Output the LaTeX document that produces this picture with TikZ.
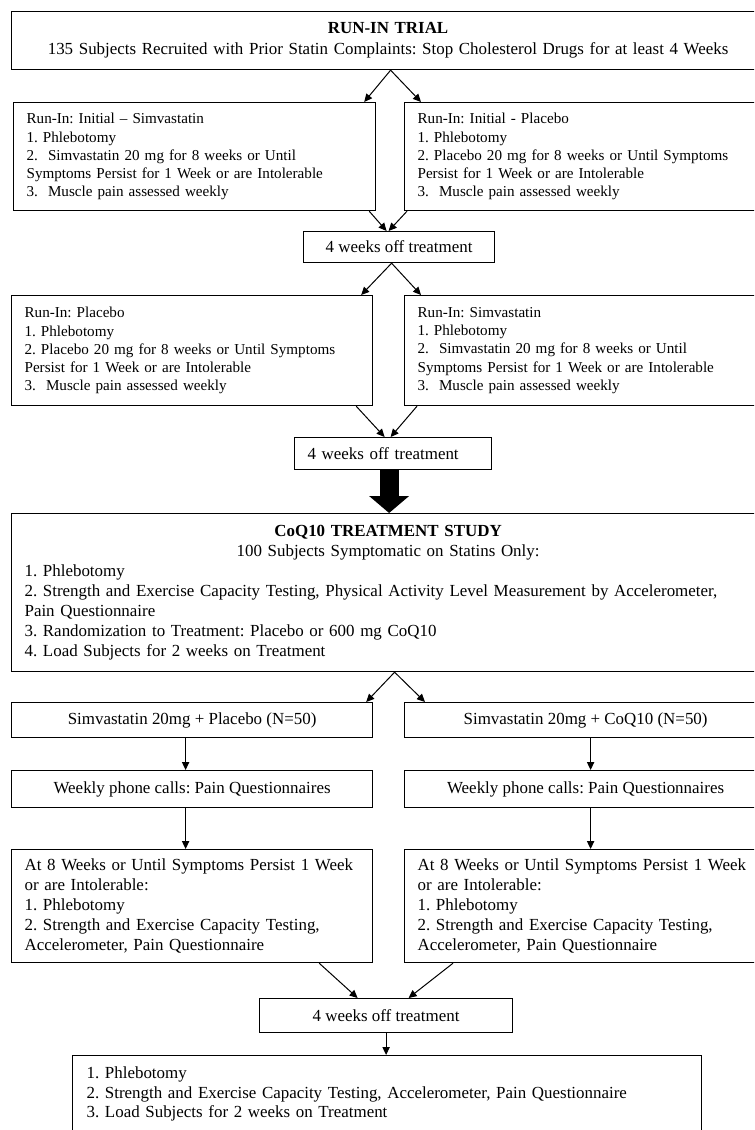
\documentclass[tikz,border=0pt]{standalone}
\usepackage{fontspec}
\setmainfont{Liberation Serif}
\usetikzlibrary{arrows.meta,calc}
\setlength\parindent{0pt}
\begin{document}
\frenchspacing
\begin{tikzpicture}[x=0.75pt,y=-0.75pt,
  box/.style={draw, line width=0.9pt, inner xsep=9.75pt, inner ysep=1pt, anchor=north west,
    font=\fontsize{12.7pt}{15pt}\selectfont},
  lbox/.style={box, align=left},
  rin/.style={font=\fontsize{11.35pt}{13.6pt}\selectfont},
  cbox/.style={box, align=center},
  con/.style={line width=0.75pt, -{Triangle[length=6pt,width=5.5pt]}},
  bigarrow/.style={line width=14.25pt, -{Triangle[width=30pt,length=12.75pt,line width=0pt]}}
]
\useasboundingbox (0,0) rectangle (754,1130);
\clip (0,0) rectangle (754,1130);

% Run-in trial
\node[cbox, minimum width=564.75pt, minimum height=43.5pt, text width=545.25pt,
  font=\fontsize{12.7pt}{15.75pt}\selectfont] (top) at (11,11)
  {\textbf{RUN-IN TRIAL}\\135 Subjects Recruited with Prior Statin Complaints: Stop Cholesterol Drugs for at least 4 Weeks};

\node[lbox, rin, minimum width=271.5pt, minimum height=81pt, text width=252pt] (L2) at (13,102)
  {Run-In: Initial – Simvastatin\\1. Phlebotomy\\\mbox{2.\ \ Simvastatin 20 mg for 8 weeks or Until}\\\mbox{Symptoms Persist for 1 Week or are Intolerable}\\3.\ \ Muscle pain assessed weekly};
\node[lbox, rin, minimum width=271.5pt, minimum height=81pt, text width=252pt] (R2) at (404,102)
  {Run-In: Initial - Placebo\\1. Phlebotomy\\\mbox{2. Placebo 20 mg for 8 weeks or Until Symptoms}\\\mbox{Persist for 1 Week or are Intolerable}\\3.\ \ Muscle pain assessed weekly};

\node[box, minimum width=143.25pt, minimum height=23.25pt] (b1) at (303,231) {4 weeks off treatment};

\node[lbox, rin, minimum width=270.75pt, minimum height=82.5pt, text width=251.25pt] (L3) at (11,295)
  {Run-In: Placebo\\1. Phlebotomy\\\mbox{2. Placebo 20 mg for 8 weeks or Until Symptoms}\\\mbox{Persist for 1 Week or are Intolerable}\\3.\ \ Muscle pain assessed weekly};
\node[lbox, rin, minimum width=271.5pt, minimum height=82.5pt, text width=252pt] (R3) at (404,295)
  {Run-In: Simvastatin\\1. Phlebotomy\\\mbox{2.\ \ Simvastatin 20 mg for 8 weeks or Until}\\\mbox{Symptoms Persist for 1 Week or are Intolerable}\\3.\ \ Muscle pain assessed weekly};

\node[lbox, minimum width=147.75pt, minimum height=24pt, text width=128.25pt] (b2) at (294,437) {4 weeks off treatment};

% CoQ10 treatment study
\node[lbox, minimum width=564.75pt, minimum height=118.5pt, text width=545.25pt] (coq) at (11,513)
  {\makebox[\linewidth]{\textbf{CoQ10 TREATMENT STUDY}}\\\makebox[\linewidth]{100 Subjects Symptomatic on Statins Only:}\\1. Phlebotomy\\\mbox{2. Strength and Exercise Capacity Testing, Physical Activity Level Measurement by Accelerometer,}\\Pain Questionnaire\\3. Randomization to Treatment: Placebo or 600 mg CoQ10\\4. Load Subjects for 2 weeks on Treatment};

\node[box, minimum width=270.75pt, minimum height=26.25pt] (sl) at (11,702) {Simvastatin 20mg + Placebo (N=50)};
\node[box, minimum width=271.5pt, minimum height=26.25pt] (sr) at (404,702) {Simvastatin 20mg + CoQ10 (N=50)};

\node[box, minimum width=270.75pt, minimum height=27.75pt] (wl) at (11,770) {Weekly phone calls: Pain Questionnaires};
\node[box, minimum width=271.5pt, minimum height=27.75pt] (wr) at (404,770) {Weekly phone calls: Pain Questionnaires};

\node[lbox, minimum width=270.75pt, minimum height=84.75pt, text width=251.25pt] (al) at (11,849)
  {\mbox{At 8 Weeks or Until Symptoms Persist 1 Week}\\or are Intolerable:\\1. Phlebotomy\\\mbox{2. Strength and Exercise Capacity Testing,}\\Accelerometer, Pain Questionnaire};
\node[lbox, minimum width=271.5pt, minimum height=84.75pt, text width=252pt] (ar) at (404,849)
  {\mbox{At 8 Weeks or Until Symptoms Persist 1 Week}\\or are Intolerable:\\1. Phlebotomy\\\mbox{2. Strength and Exercise Capacity Testing,}\\Accelerometer, Pain Questionnaire};

\node[box, minimum width=189.75pt, minimum height=25.5pt] (b3) at (259,998) {4 weeks off treatment};

\node[lbox, inner xsep=10.5pt, inner ysep=8.5pt, minimum width=471.75pt, text width=450.75pt,
  text height=9pt, text depth=60pt, font=\fontsize{12.7pt}{14.6pt}\selectfont] (bot) at (72,1055)
  {1. Phlebotomy\\\mbox{2. Strength and Exercise Capacity Testing, Accelerometer, Pain Questionnaire}\\3. Load Subjects for 2 weeks on Treatment};

% connectors
\draw[con] ($(top.south)+(2.5,0)$) -- ($(L2.north east)+(-12,0)$);
\draw[con] ($(top.south)+(2.5,0)$) -- ($(R2.north west)+(17,0)$);
\draw[con] ($(L2.south east)+(-7,0)$) -- ($(b1.north)+(-12.5,0)$);
\draw[con] ($(R2.south west)+(3,0)$) -- ($(b1.north)+(-10.5,0)$);
\draw[con] ($(b1.south)+(-7.5,0)$) -- ($(L3.north east)+(-12,0)$);
\draw[con] ($(b1.south)+(-7.5,0)$) -- ($(R3.north west)+(17,0)$);
\draw[con] ($(L3.south east)+(-17,0)$) -- ($(b2.north)+(-8.5,0)$);
\draw[con] ($(R3.south west)+(13,0)$) -- ($(b2.north)+(-2.5,0)$);
\draw[bigarrow] ($(b2.south -| coq.north)+(1,0)$) -- ($(coq.north)+(1,0)$);
\draw[con] ($(coq.south)+(6.5,0)$) -- ($(sl.north east)+(-7,0)$);
\draw[con] ($(coq.south)+(6.5,0)$) -- ($(sr.north west)+(21,0)$);
\coordinate (p1) at ($(sl.south)+(-6.5,0)$);
\draw[con] (p1) -- (p1 |- wl.north);
\coordinate (p2) at ($(sr.south)+(5,0)$);
\draw[con] (p2) -- (p2 |- wr.north);
\coordinate (p3) at ($(wl.south)+(-6.5,0)$);
\draw[con] (p3) -- (p3 |- al.north);
\coordinate (p4) at ($(wr.south)+(5,0)$);
\draw[con] (p4) -- (p4 |- ar.north);
\draw[con] ($(al.south east)+(-54,0)$) -- ($(b3.north)+(-28.5,0)$);
\draw[con] ($(ar.south west)+(49,0)$) -- ($(b3.north)+(22.5,0)$);
\draw[con] (b3.south) -- (b3.south |- bot.north);
\end{tikzpicture}
\end{document}
